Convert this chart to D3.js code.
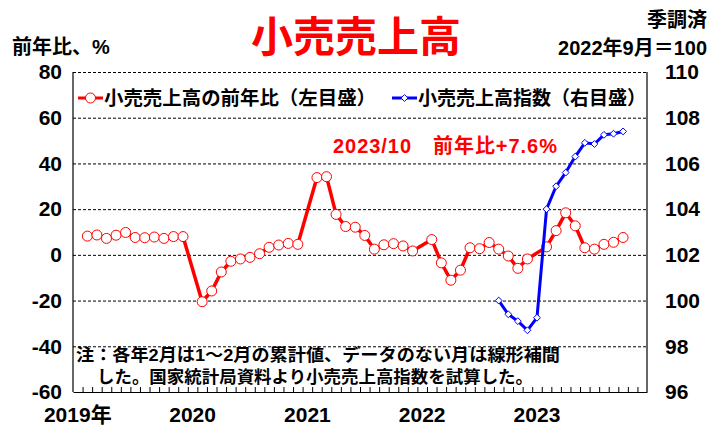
<!DOCTYPE html>
<html lang="ja">
<head>
<meta charset="utf-8" />
<title>小売売上高</title>
<style>
    body { margin: 0; background: #fff; }
    svg text {
        font-family: "Liberation Sans Narrow", "Liberation Sans", "Noto Sans CJK JP", sans-serif;
        font-weight: bold;
        fill: #000;
    }
    .grid line { stroke: #000; stroke-width: 1; stroke-dasharray: 3,2; }
    .grid path { display: none; }
    .tick-label path, .tick-label line { display: none; }
    .tick-label text { font-size: 21px; }
</style>
</head>
<body>
<div id="chart"></div>
<script src="https://d3js.org/d3.v7.min.js"></script>
<script>
    // months on the x axis, Jan 2019 .. Dec 2023
    var months = d3.timeMonth.range(new Date(2019, 0, 1), new Date(2024, 0, 1));
    var yearLabels = ["2019年", "2020", "2021", "2022", "2023"];

    // 前年比 (%), Feb 2019 .. Oct 2023 (January missing: Jan-Feb cumulative shown in Feb)
    var yoyMonths = [
        "2019-02", "2019-03", "2019-04", "2019-05", "2019-06", "2019-07", "2019-08", "2019-09", "2019-10", "2019-11", "2019-12",
        "2020-02", "2020-03", "2020-04", "2020-05", "2020-06", "2020-07", "2020-08", "2020-09", "2020-10", "2020-11", "2020-12",
        "2021-02", "2021-03", "2021-04", "2021-05", "2021-06", "2021-07", "2021-08", "2021-09", "2021-10", "2021-11", "2021-12",
        "2022-02", "2022-03", "2022-04", "2022-05", "2022-06", "2022-07", "2022-08", "2022-09", "2022-10", "2022-11", "2022-12",
        "2023-02", "2023-03", "2023-04", "2023-05", "2023-06", "2023-07", "2023-08", "2023-09", "2023-10"];
    var yoyValues = [
        8.2, 8.7, 7.2, 8.6, 9.8, 7.6, 7.5, 7.8, 7.2, 8.0, 8.0,
        -20.5, -15.8, -7.5, -2.8, -1.8, -1.1, 0.5, 3.3, 4.3, 5.0, 4.6,
        33.8, 34.2, 17.7, 12.4, 12.1, 8.5, 2.5, 4.4, 4.9, 3.9, 1.7,
        6.7, -3.5, -11.1, -6.7, 3.1, 2.7, 5.4, 2.5, -0.5, -5.9, -1.8,
        3.5, 10.6, 18.4, 12.7, 3.1, 2.5, 4.6, 5.5, 7.6];

    // 指数 (2022年9月=100)
    var idxMonths = ["2022-09", "2022-10", "2022-11", "2022-12", "2023-01", "2023-02", "2023-03",
        "2023-04", "2023-05", "2023-06", "2023-07", "2023-08", "2023-09", "2023-10"];
    var idxValues = [100.0, 99.4, 99.1, 98.7, 99.25, 104.0, 105.0,
        105.6, 106.3, 106.9, 106.85, 107.25, 107.3, 107.4];

    var leftTicks = [80, 60, 40, 20, 0, -20, -40, -60];
    var rightTicks = [110, 108, 106, 104, 102, 100, 98, 96];

    var W = 716, H = 437;
    var margin = { top: 72, right: 69, bottom: 45, left: 73 };
    var width = W - margin.left - margin.right,
        height = H - margin.top - margin.bottom;

    var fmt = d3.timeFormat("%Y-%m");
    var monthKeys = months.map(fmt);

    var x = d3.scaleBand().domain(monthKeys).range([0, width]).padding(0);
    var xc = function (k) { return x(k) + x.bandwidth() / 2; };
    var xi = d3.scaleLinear().domain([0, monthKeys.length]).range([0, width]);
    var yL = d3.scaleLinear().domain([-60, 80]).range([height, 0]);
    var yR = d3.scaleLinear().domain([96, 110]).range([height, 0]);

    var svg = d3.select("#chart").append("svg")
        .attr("width", W).attr("height", H)
        .style("background", "#fff");

    var g = svg.append("g")
        .attr("transform", "translate(" + margin.left + "," + margin.top + ")");

    // dashed grid
    g.append("g").attr("class", "grid")
        .call(d3.axisLeft(yL).tickValues(leftTicks.slice(0, 7)).tickSize(-width).tickFormat(""));

    // frame: left, right solid; bottom solid
    g.append("line").attr("x1", 0).attr("x2", 0).attr("y1", 0).attr("y2", height)
        .attr("stroke", "#000").attr("stroke-width", 1.2);
    g.append("line").attr("x1", width).attr("x2", width).attr("y1", 0).attr("y2", height)
        .attr("stroke", "#000").attr("stroke-width", 1.2);

    var xAxis = g.append("g")
        .attr("transform", "translate(0," + height + ")")
        .call(d3.axisBottom(xi).tickValues(d3.range(1, monthKeys.length)).tickSize(-5).tickSizeOuter(0).tickFormat(""));
    xAxis.select(".domain").attr("stroke", "#000").attr("stroke-width", 1.2);
    xAxis.selectAll(".tick line").attr("stroke", "#000");

    // year labels under January
    var janKeys = monthKeys.filter(function (k) { return k.slice(5) === "01"; });
    g.append("g").attr("class", "tick-label")
        .attr("transform", "translate(0," + height + ")")
        .call(d3.axisBottom(x).tickValues(janKeys).tickSize(0).tickPadding(15)
            .tickFormat(function (k, i) { return yearLabels[i]; }));

    // left / right tick labels
    g.append("g").attr("class", "tick-label")
        .call(d3.axisLeft(yL).tickValues(leftTicks).tickSize(0).tickPadding(11)
            .tickFormat(function (d) { return d < 0 ? "-" + Math.abs(d) : d; }));
    g.append("g").attr("class", "tick-label")
        .attr("transform", "translate(" + width + ",0)")
        .call(d3.axisRight(yR).tickValues(rightTicks).tickSize(0).tickPadding(18));

    // series
    var red = "#ff0000", blue = "#0000ff";
    var yoy = yoyMonths.map(function (m, i) { return { m: m, v: yoyValues[i] }; });
    var idx = idxMonths.map(function (m, i) { return { m: m, v: idxValues[i] }; });

    g.append("path").datum(yoy)
        .attr("fill", "none").attr("stroke", red).attr("stroke-width", 3.5)
        .attr("stroke-linejoin", "round")
        .attr("d", d3.line().x(function (d) { return xc(d.m); }).y(function (d) { return yL(d.v); }));
    g.selectAll(".dot").data(yoy).enter().append("circle")
        .attr("cx", function (d) { return xc(d.m); })
        .attr("cy", function (d) { return yL(d.v); })
        .attr("r", 5).attr("fill", "#fff").attr("stroke", red).attr("stroke-width", 1);

    g.append("path").datum(idx)
        .attr("fill", "none").attr("stroke", blue).attr("stroke-width", 3)
        .attr("stroke-linejoin", "round")
        .attr("d", d3.line().x(function (d) { return xc(d.m); }).y(function (d) { return yR(d.v); }));
    var diamond = d3.symbol().type(d3.symbolDiamond2).size(30);
    g.selectAll(".dia").data(idx).enter().append("path")
        .attr("transform", function (d) { return "translate(" + xc(d.m) + "," + yR(d.v) + ")"; })
        .attr("d", diamond).attr("fill", "#fff").attr("stroke", blue).attr("stroke-width", 1);

    // legend
    var lg = svg.append("g");
    lg.append("line").attr("x1", 78).attr("x2", 103).attr("y1", 98).attr("y2", 98)
        .attr("stroke", red).attr("stroke-width", 3);
    lg.append("circle").attr("cx", 90.5).attr("cy", 98).attr("r", 5)
        .attr("fill", "#fff").attr("stroke", red);
    lg.append("text").attr("x", 104).attr("y", 98).attr("dy", "0.36em")
        .style("font-size", "19px").attr("textLength", 272).attr("lengthAdjust", "spacingAndGlyphs")
        .text("小売売上高の前年比（左目盛）");
    lg.append("line").attr("x1", 392).attr("x2", 417).attr("y1", 98).attr("y2", 98)
        .attr("stroke", blue).attr("stroke-width", 3);
    lg.append("path").attr("transform", "translate(404.5,98)").attr("d", diamond)
        .attr("fill", "#fff").attr("stroke", blue);
    lg.append("text").attr("x", 418).attr("y", 98).attr("dy", "0.36em")
        .style("font-size", "19px").attr("textLength", 228).attr("lengthAdjust", "spacingAndGlyphs")
        .text("小売売上高指数（右目盛）");

    // titles
    svg.append("text").attr("x", 356).attr("y", 37).attr("dy", "0.36em")
        .attr("text-anchor", "middle").style("font-size", "42px").style("fill", red)
        .text("小売売上高");
    svg.append("text").attr("x", 12).attr("y", 47).attr("dy", "0.36em")
        .style("font-size", "20px").text("前年比、%");
    svg.append("text").attr("x", 707).attr("y", 20).attr("dy", "0.36em")
        .attr("text-anchor", "end").style("font-size", "20px").text("季調済");
    svg.append("text").attr("x", 707).attr("y", 48).attr("dy", "0.36em")
        .attr("text-anchor", "end").style("font-size", "20px").text("2022年9月＝100");

    // annotation
    svg.append("text").attr("x", 333).attr("y", 146).attr("dy", "0.36em")
        .style("font-size", "20px").style("fill", red)
        .attr("textLength", 224).attr("lengthAdjust", "spacing")
        .text("2023/10　前年比+7.6%");

    // note
    svg.append("text").attr("x", 76).attr("y", 355).attr("dy", "0.36em")
        .style("font-size", "17px").attr("textLength", 484).attr("lengthAdjust", "spacingAndGlyphs")
        .text("注：各年2月は1～2月の累計値、データのない月は線形補間");
    svg.append("text").attr("x", 97).attr("y", 377).attr("dy", "0.36em")
        .style("font-size", "17px").attr("textLength", 436).attr("lengthAdjust", "spacingAndGlyphs")
        .text("した。国家統計局資料より小売売上高指数を試算した。");
</script>
</body>
</html>
